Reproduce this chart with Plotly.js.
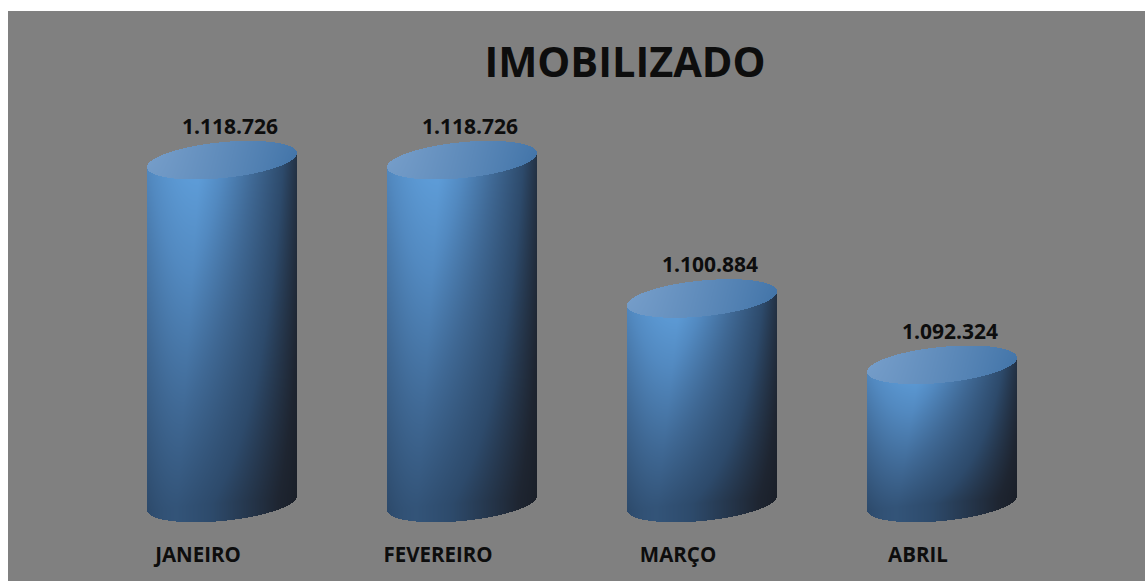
<!DOCTYPE html>
<html>
<head>
<meta charset="utf-8">
<script src="https://cdn.plot.ly/plotly-3.0.1.min.js"></script>
<style>
  html, body { margin:0; padding:0; background:#ffffff; width:1145px; height:581px; overflow:hidden; }
  #chart { position:absolute; left:8px; top:11px; width:1137px; height:570px; }
</style>
</head>
<body>
<div id="chart"></div>
<script>
// ---- data ----
const categories = ['JANEIRO', 'FEVEREIRO', 'MARÇO', 'ABRIL'];
const values = [1118726, 1118726, 1100884, 1092324];
const valueLabels = ['1.118.726', '1.118.726', '1.100.884', '1.092.324'];
const axisFloor = 1074500; // value-axis minimum (cylinder floor)

// ---- layout geometry ----
const W = 1137, H = 570;
const margin = {l: 94, r: 83, t: 89, b: 51};
const plotW = W - margin.l - margin.r;
const plotH = H - margin.t - margin.b;
const xRange = [-0.5, categories.length - 0.5];
const yRange = [1071017, 1126487];
const XU = (xRange[1] - xRange[0]) / plotW; // x units per px
const YU = (yRange[1] - yRange[0]) / plotH; // y units per px

function cylinderTrace(i) {
  const cx = i, top = values[i], bot = axisFloor;
  const halfW = 75 * XU, N = 150;
  const RY = 18 * YU, T = 7 * YU;
  const ymin = bot - RY - T, ymax = top + RY + T;
  const rows = Math.ceil((ymax - ymin) / YU);
  const xs = [], ys = [], z = [];
  for (let k = 0; k < N; k++) xs.push(cx - halfW + (k + 0.5) * 2 * halfW / N);
  for (let r = 0; r < rows; r++) {
    const yv = ymin + (r + 0.5) * YU;
    ys.push(yv);
    const row = [];
    for (let k = 0; k < N; k++) {
      const u = -1 + (k + 0.5) * 2 / N;
      const s = Math.sqrt(Math.max(0, 1 - u * u)) * RY;
      const ct = top + u * T, cb = bot + u * T;
      if (yv >= ct - s && yv <= ct + s) {
        const t = (u + 1) / 2;
        const back = (yv - (ct - s)) / (2 * s + 1e-9);
        row.push(2 - 0.75 * Math.pow(t, 1.2) + 0.05 * back - 0.05);
      } else if (yv >= cb - s && yv < ct - s) {
        let v = (ct - yv) / (ct - cb);
        v = Math.min(1, Math.max(0, v));
        const p = -0.3 - 0.3 * v;
        let hf;
        if (u >= p) { const t = (u - p) / (1 - p); hf = 1 - 0.82 * Math.pow(t, 1.1); }
        else { const t = (p - u) / (1 + p); hf = 1 - 0.22 * t * t; }
        const vf = 1 - 0.62 * v;
        row.push(Math.max(0, Math.min(1, hf * vf)));
      } else {
        row.push(null);
      }
    }
    z.push(row);
  }
  return {
    type: 'heatmap', x: xs, y: ys, z: z,
    zmin: 0, zmax: 2, zsmooth: false, showscale: false, hoverinfo: 'skip',
    colorscale: [
      [0.0, '#15181e'], [0.06, '#1e2531'], [0.15, '#2d4a6b'],
      [0.275, '#3f6894'], [0.4, '#5289c0'], [0.5, '#5f9fdb'],
      [0.6, '#4274a8'], [1.0, '#759dc9']
    ]
  };
}

const traces = categories.map((c, i) => cylinderTrace(i));

const annotations = values.map((v, i) => ({
  x: i + 8 * XU, y: v, xref: 'x', yref: 'y',
  text: valueLabels[i], showarrow: false, yshift: 34,
  xanchor: 'center', yanchor: 'middle',
  font: {family: 'Open Sans', size: 21, color: '#0d0d0d', weight: 700}
}));

const layout = {
  width: W, height: H, margin: margin,
  paper_bgcolor: '#808080', plot_bgcolor: '#808080',
  showlegend: false,
  title: {
    text: 'IMOBILIZADO', x: 617 / W, xanchor: 'center', xref: 'container',
    y: 1 - 51 / H, yanchor: 'middle', yref: 'container',
    font: {family: 'Open Sans', size: 41.5, color: '#0d0d0d', weight: 700}
  },
  xaxis: {
    range: xRange, tickvals: categories.map((c, i) => i), ticktext: categories,
    showgrid: false, zeroline: false, showline: false, ticks: '',
    ticklabelshift: -24, ticklabelstandoff: 10,
    tickfont: {family: 'Open Sans', size: 20.5, color: '#0d0d0d', weight: 700},
    fixedrange: true
  },
  yaxis: {
    range: yRange, showgrid: false, zeroline: false, showline: false,
    showticklabels: false, ticks: '', fixedrange: true
  },
  annotations: annotations
};

Plotly.newPlot('chart', traces, layout, {displayModeBar: false, staticPlot: true});
</script>
</body>
</html>
